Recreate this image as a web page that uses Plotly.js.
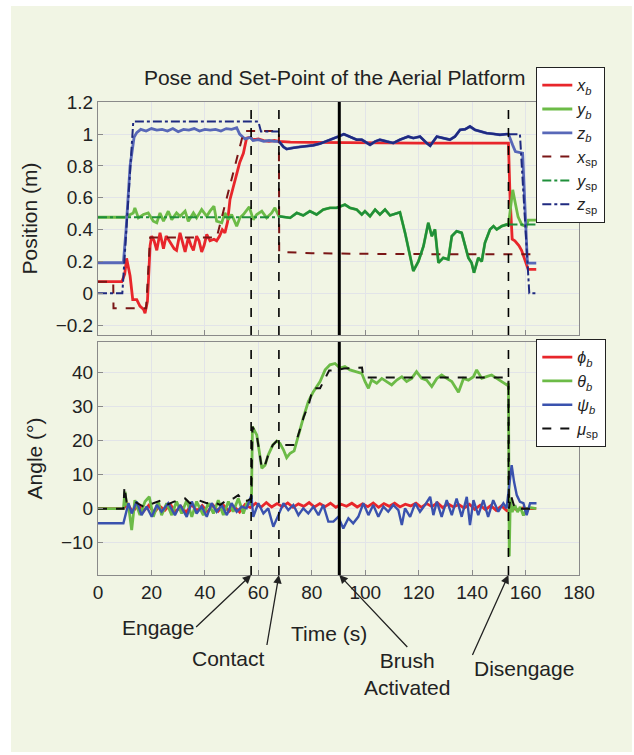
<!DOCTYPE html>
<html>
<head>
<meta charset="utf-8">
<script src="https://cdn.plot.ly/plotly-3.0.1.min.js"></script>
<style>html,body{margin:0;padding:0;background:#fff;}#chart{width:634px;height:755px;}</style>
</head>
<body>
<div id="chart"></div>
<script>
// ---------- Top panel: position (m) ----------
var tXb = [0, 8.9, 10.0, 10.7, 12.0, 13.0, 14.5, 15.7, 17.0, 17.6,
  18.5, 19.5, 20.1, 21.0, 22.0, 23.2, 24.5, 25.5, 26.3, 27.6,
  28.5, 29.4, 30.7, 31.5, 32.6, 33.8, 34.8, 35.7, 36.9, 37.8,
  38.8, 39.7, 40.7, 41.9, 43.4, 44.4, 45.5, 46.5, 47.5, 48.5,
  49.4, 50.5, 51.9, 53.0, 54.4, 55.6, 57.0, 58.0, 60.0, 62.0,
  64.0, 66.0, 67.7, 72, 80, 90, 100, 110, 120, 130,
  140, 150, 153.6, 154.2, 155.0, 156.0, 157.5, 158.5, 159.8, 161.0,
  164.0];
var xB = [0.073, 0.073, 0.12, 0.22, 0.11, -0.04, -0.04, -0.08, -0.10, -0.125,
  -0.05, 0.30, 0.36, 0.33, 0.27, 0.38, 0.28, 0.36, 0.34, 0.30,
  0.28, 0.27, 0.38, 0.33, 0.26, 0.35, 0.30, 0.27, 0.36, 0.33,
  0.26, 0.30, 0.37, 0.33, 0.34, 0.33, 0.36, 0.40, 0.38, 0.45,
  0.59, 0.66, 0.756, 0.82, 0.88, 0.975, 0.98, 0.965, 0.97, 0.96,
  0.955, 0.96, 0.955, 0.95, 0.948, 0.946, 0.945, 0.944, 0.944, 0.944,
  0.945, 0.944, 0.944, 0.6, 0.34, 0.33, 0.30, 0.27, 0.20, 0.15,
  0.15];

var tXsp = [0, 5.7, 5.8, 18.0, 19.5, 44.4, 54.6, 67.7, 67.8, 80, 100, 120, 140, 163.5];
var xSp  = [0.073, 0.073, -0.094, -0.094, 0.35, 0.35, 1.02, 1.02, 0.26, 0.252, 0.248, 0.245, 0.245, 0.245];

var tYb = [0, 10, 13.2, 13.8, 15.1, 17.0, 18.8, 20.7, 22.0, 23.2,
  24.5, 26.3, 27.6, 29.4, 30.7, 32.6, 33.8, 35.7, 36.9, 38.8,
  40.7, 41.9, 43.4, 44.4, 46.3, 47.5, 48.8, 50.0, 51.9, 53.1,
  54.4, 56.6, 58.1, 59.4, 61.3, 63.1, 65.0, 66.2, 67.7, 69.4,
  71.9, 74.4, 76.8, 79.3, 81.8, 84.3, 86.8, 89.3, 92.4, 94.3,
  96.8, 98.7, 99.9, 101.8, 103.7, 105.5, 107.4, 109.3, 111.8, 113.0,
  114.9, 116.8, 118.0, 119.9, 121.8, 123.6, 124.9, 126.1, 127.4, 129.2,
  131.1, 132.4, 134.2, 136.1, 137.4, 138.6, 139.8, 140.7, 142.3, 143.6,
  144.8, 146.7, 148.0, 149.2, 151.1, 152.9, 153.6, 154.5, 155.2, 156.0,
  157.2, 158.6, 160.3, 161.0, 164.0];
var yB = [0.478, 0.478, 0.505, 0.537, 0.474, 0.495, 0.505, 0.453, 0.443, 0.505,
  0.453, 0.516, 0.463, 0.505, 0.484, 0.516, 0.453, 0.505, 0.474, 0.526,
  0.484, 0.516, 0.547, 0.453, 0.443, 0.505, 0.463, 0.495, 0.422, 0.474,
  0.495, 0.543, 0.463, 0.495, 0.516, 0.474, 0.505, 0.537, 0.484, 0.48,
  0.474, 0.505, 0.489, 0.516, 0.495, 0.526, 0.537, 0.537, 0.557, 0.537,
  0.526, 0.495, 0.516, 0.484, 0.526, 0.495, 0.526, 0.489, 0.501, 0.509,
  0.38, 0.234, 0.14, 0.2, 0.296, 0.443, 0.359, 0.401, 0.192, 0.223,
  0.213, 0.359, 0.39, 0.38, 0.307, 0.223, 0.192, 0.129, 0.223, 0.2,
  0.317, 0.401, 0.422, 0.401, 0.422, 0.432, 0.43, 0.55, 0.65, 0.58,
  0.48, 0.43, 0.42, 0.46, 0.46];

// y set-point outside the contact phase (contact phase tracks y_b)
var tYspPre = [0, 67.7];
var ySpPre = [0.478, 0.478];
var tYspPost = [153.6, 164.0];
var ySpPost = [0.432, 0.432];

var tZbPre = [0, 9.5, 10.5, 12.0, 13.5, 14.5, 16, 18, 20, 22,
  24, 26, 28, 30, 32, 34, 36, 38, 40, 42,
  44, 46, 48, 50, 51.9, 53, 55, 57, 58, 60,
  62, 64, 66, 67.7];
var zBPre = [0.192, 0.192, 0.4, 0.8, 0.98, 1.01, 1.03, 1.02, 1.035, 1.025,
  1.03, 1.02, 1.035, 1.015, 1.03, 1.025, 1.035, 1.02, 1.03, 1.025,
  1.03, 1.02, 1.035, 1.03, 1.04, 1.0, 0.97, 0.98, 0.96, 0.965,
  0.955, 0.96, 0.955, 0.955];
var tZContact = [67.7, 69.4, 70.6, 73.1, 75.6, 78.1, 80.6, 83.1, 85.6, 88.1,
  89.9, 92.0, 94.3, 96.8, 98.7, 101.8, 103.7, 105.5, 108.0, 110.5,
  113.0, 116.1, 118.0, 120.5, 123.0, 124.3, 126.8, 129.2, 131.7, 133.6,
  135.5, 137.4, 139.2, 141.1, 143.0, 145.4, 147.9, 150.4, 152.9, 153.6];
var zContact = [0.955, 0.92, 0.906, 0.915, 0.92, 0.925, 0.93, 0.94, 0.955, 0.97,
  0.985, 1.0, 0.985, 0.965, 0.965, 0.933, 0.954, 0.965, 0.954, 0.944,
  0.965, 0.985, 0.975, 0.985, 0.944, 0.927, 0.985, 0.975, 0.965, 0.985,
  1.027, 1.031, 1.048, 1.027, 1.017, 1.006, 1.002, 0.996, 1.0, 1.0];
var tZbPost = [153.6, 155.2, 156.2, 158.9, 160.7, 164.0];
var zBPost = [1.0, 0.93, 0.89, 0.88, 0.19, 0.19];

var tZspPre = [0, 9.1, 13.2, 60.0, 61.0, 67.7];
var zSpPre = [0, 0, 1.079, 1.079, 1.017, 1.017];
var tZspPost = [153.6, 157.9, 161.4, 163.9];
var zSpPost = [1.0, 1.0, 0, 0];

// ---------- Bottom panel: angle (deg) ----------
var tPhi = [0, 9.5, 11, 13, 15, 17, 19, 21, 23, 25,
  27, 29, 31, 33, 35, 37, 39, 41, 43, 45,
  47, 49, 51, 53, 55, 57, 59, 61, 63, 65,
  67, 69, 71, 73, 75, 77, 79, 81, 83, 85,
  87, 89, 91, 93, 95, 97, 99, 101, 103, 105,
  107, 109, 111, 113, 115, 117, 119, 121, 123, 125,
  127, 129, 131, 133, 135, 137, 139, 141, 143, 145,
  147, 149, 151, 153, 153.6, 155, 157, 159, 161, 164];
var phiB = [0, 0, 1.5, -1.0, 1.2, -0.8, 1.0, -1.2, 0.8, -0.5,
  1.3, -0.9, 0.7, -1.1, 1.2, -0.6, 0.9, -1.0, 1.1, -0.7,
  1.0, -0.8, 0.6, -1.0, 1.2, 0.3, 1.6, 0.4, 1.8, 0.5,
  1.5, 0.6, 1.7, 0.4, 1.4, 0.7, 1.8, 0.5, 1.5, 0.6,
  1.6, 0.4, 1.3, 0.7, 1.6, 0.5, 1.4, 0.6, 1.7, 0.4,
  1.5, 0.7, 1.6, 0.5, 1.3, 0.8, 1.6, 0.4, 1.5, 0.6,
  1.7, 0.3, 1.4, 0.5, 1.2, 0.2, 1.3, -0.2, 1.0, -0.3,
  0.9, -0.5, 0.8, -0.6, -0.5, 0.3, -0.4, 0.2, 0, 0];

var tTheta = [0, 9.5, 10.1, 10.7, 11.4, 12.6, 13.8, 15.7, 17.6, 19.2,
  20.7, 22.6, 23.8, 25.7, 27.6, 29.4, 31.3, 33.2, 35.1, 36.9,
  39.4, 41.3, 43.2, 45.0, 46.9, 48.8, 50.6, 52.5, 54.4, 55.9,
  57.4, 57.8, 59.4, 61.3, 62.5, 63.7, 65.4, 66.9, 68.1, 69.4,
  70.6, 71.9, 73.4, 75.0, 76.8, 78.7, 80.6, 83.1, 85.0, 86.8,
  88.7, 90.6, 92.4, 94.3, 96.8, 98.7, 99.9, 101.2, 102.4, 104.3,
  106.2, 108.1, 109.9, 111.8, 113.7, 115.5, 117.4, 119.2, 121.1, 123.0,
  124.9, 126.8, 128.6, 130.5, 132.4, 134.9, 136.8, 138.6, 140.5, 141.7,
  143.6, 145.4, 147.3, 149.2, 151.1, 153.0, 153.6, 153.9, 154.3, 155.0,
  156.0, 157.0, 158.0, 159.2, 160.4, 162.0, 164.0];
var thetaB = [0, 0, 5.0, 1.1, 1.1, -6.3, 2.5, -1.9, 2.1, 3.5,
  -2.4, 2.1, -1.9, 1.6, -1.9, 2.1, -1.4, 2.5, -2.4, 2.1,
  -1.9, 1.6, -1.4, 2.5, -1.9, 2.1, -0.9, 3.0, -1.4, 2.1,
  1.1, 24.1, 21.7, 11.9, 12.8, 15.8, 18.7, 19.9, 19.2, 17.3,
  15.0, 16.3, 17.0, 21.7, 26.6, 31.5, 34.4, 37.4, 40.8, 42.3,
  42.7, 41.3, 41.8, 40.8, 40.3, 39.8, 37.4, 35.4, 37.8, 36.9,
  38.3, 37.4, 36.4, 37.8, 38.8, 37.4, 38.3, 40.3, 38.3, 37.8,
  35.9, 38.3, 39.3, 38.3, 37.4, 34.2, 38.3, 37.8, 38.8, 40.8,
  38.3, 38.8, 39.3, 38.3, 37.4, 36.4, 36.9, -14, 3, -1,
  1, -1, 0.5, -2, 0, 0.3, 0];

var tPsi = [0, 9.5, 11.4, 12.6, 14.5, 16.3, 18.2, 20.1, 22.0, 23.8,
  26.3, 28.8, 30.7, 33.2, 35.1, 36.9, 38.8, 40.7, 42.5, 44.4,
  46.3, 48.2, 50.0, 51.9, 53.8, 55.6, 57.4, 58.1, 60.0, 61.9,
  63.7, 65.6, 67.5, 69.4, 71.2, 73.1, 75.0, 76.8, 78.7, 80.6,
  82.5, 84.3, 86.2, 88.1, 89.9, 91.8, 93.7, 95.5, 97.4, 99.3,
  101.2, 103.0, 104.9, 106.8, 108.6, 110.5, 112.4, 113.7, 114.9, 116.8,
  118.7, 120.5, 122.4, 124.3, 125.5, 126.8, 128.6, 130.5, 132.4, 134.2,
  136.1, 138.0, 139.2, 140.5, 142.3, 144.2, 146.0, 147.9, 149.8, 151.7,
  152.9, 154.2, 154.8, 155.7, 156.7, 157.9, 159.2, 160.4, 161.7, 164.1];
var psiB = [-4.3, -4.3, 1.6, -1.4, 2.1, -1.9, 0.6, -2.4, 1.1, -0.9,
  1.6, -1.9, 1.1, -2.4, 2.1, -1.4, 0.6, -2.4, 1.6, -0.9,
  1.1, -1.9, 1.6, -0.9, 0.6, 0.1, 4.0, -2.4, 1.6, -1.4,
  0.1, -5.3, -1.9, 1.6, -0.4, 1.1, -1.9, 0.1, -1.4, 0.6,
  -1.9, 1.1, -3.8, -3.8, -2.4, -5.8, -2.8, -4.3, -2.4, 1.6,
  -1.9, 1.1, -2.4, 0.6, -0.9, 1.1, -0.4, -4.8, 0.1, -2.4,
  1.6, -0.9, 1.1, 3.5, -1.9, 2.1, -2.4, 2.5, -1.9, 3.0,
  -2.4, 3.5, -4.8, 2.5, -1.9, 2.5, -2.4, 2.5, -0.9, 1.6,
  0.1, 8.9, 12.8, 7.9, 4.0, 2.0, 1.6, -1.9, 1.6, 1.6];

var tMu = [0, 9.5, 9.9, 10.7, 13.8, 17.0, 20.7, 23.8, 25.7, 28.2,
  32.6, 34.4, 37.6, 40.7, 43.2, 45.7, 48.2, 50.6, 52.5, 54.4,
  56.3, 57.4, 57.8, 59.4, 61.3, 62.5, 63.7, 65.4, 66.9, 68.1,
  69.4, 73.8, 75.0, 77.0, 79.0, 80.4, 83.1, 86.5, 90.0, 92.0,
  98.8, 99.3, 153.6, 153.8, 154.5, 155.5, 156.0, 164.0];
var muSp = [0, 0, 6.5, 2.0, 2.0, 0.6, 1.6, 2.5, 1.1, 2.0,
  3.0, 1.6, 2.5, 1.6, 2.0, 1.1, 2.5, 3.0, 4.0, 2.0,
  2.5, 3.0, 24.1, 21.7, 11.9, 12.8, 15.8, 18.7, 19.9, 19.2,
  18.7, 18.7, 22.0, 27.0, 31.0, 35.4, 35.4, 40.6, 40.8, 41.2,
  41.5, 38.6, 38.6, 0, 4, 1, 0, 0];

// events (s)
var eventNames = ['Engage', 'Contact', 'Brush<br>Activated', 'Disengage'];
var eventTimes = [57.3, 67.7, 90.3, 153.6];
var xTicks = [0, 20, 40, 60, 80, 100, 120, 140, 160, 180];

// ---------- helpers ----------
function seg(tA, vA, lo, hi) {
  var t = [], v = [];
  for (var i = 0; i < tA.length; i++) { if (tA[i] >= lo && tA[i] <= hi) { t.push(tA[i]); v.push(vA[i]); } }
  return {t: t, v: v};
}
function join(parts) {
  var t = [], v = [];
  parts.forEach(function (p, k) {
    if (k > 0) { t.push(null); v.push(null); }
    t = t.concat(p.t); v = v.concat(p.v);
  });
  return {t: t, v: v};
}

var C = {xb: '#e8262b', yb: '#6cbb47', zb: '#5868b8', xsp: '#7a1616', ysp: '#1f8f3a', zsp: '#1f2a80',
         phi: '#e8262b', theta: '#6cbb47', psi: '#3a52ae', mu: '#111111'};

var yContact = seg(tYb, yB, 67.7, 153.6);
var ySpOuter = join([{t: tYspPre, v: ySpPre}, {t: tYspPost, v: ySpPost}]);
var zSpOuter = join([{t: tZspPre, v: zSpPre}, {t: tZspPost, v: zSpPost}]);
var zBAll = {t: tZbPre.concat(tZContact.slice(1), tZbPost.slice(1)),
             v: zBPre.concat(zContact.slice(1), zBPost.slice(1))};

function L(name, x, y, color, dash, width, ax, leg, show) {
  return {type: 'scatter', mode: 'lines', name: name, x: x, y: y,
    xaxis: ax === 2 ? 'x2' : 'x', yaxis: ax === 2 ? 'y2' : 'y',
    legend: leg, showlegend: show !== false, hoverinfo: 'skip',
    line: {color: color, dash: dash || 'solid', width: width}};
}

var traces = [
  L('<i>x</i><sub><i>b</i></sub>', tXb, xB, C.xb, 'solid', 2.8, 1, 'legend'),
  L('<i>y</i><sub><i>b</i></sub>', tYb, yB, C.yb, 'solid', 2.8, 1, 'legend'),
  L('<i>z</i><sub><i>b</i></sub>', zBAll.t, zBAll.v, C.zb, 'solid', 2.8, 1, 'legend'),
  L('<i>x</i><sub>sp</sub>', tXsp, xSp, C.xsp, 'dash', 2, 1, 'legend'),
  L('<i>y</i><sub>sp</sub>', ySpOuter.t, ySpOuter.v, C.ysp, 'dashdot', 2, 1, 'legend'),
  L('<i>z</i><sub>sp</sub>', zSpOuter.t, zSpOuter.v, C.zsp, 'dashdot', 2, 1, 'legend'),
  L('y_sp contact', yContact.t, yContact.v, C.ysp, 'solid', 2.4, 1, 'legend', false),
  L('z_sp contact', tZContact, zContact, C.zsp, 'solid', 2.4, 1, 'legend', false),
  L('<i>ϕ</i><sub><i>b</i></sub>', tPhi, phiB, C.phi, 'solid', 2.8, 2, 'legend2'),
  L('<i>θ</i><sub><i>b</i></sub>', tTheta, thetaB, C.theta, 'solid', 2.8, 2, 'legend2'),
  L('<i>ψ</i><sub><i>b</i></sub>', tPsi, psiB, C.psi, 'solid', 2.4, 2, 'legend2'),
  L('<i>μ</i><sub>sp</sub>', tMu, muSp, C.mu, 'dash', 2, 2, 'legend2')
];

var shapes = [{type: 'rect', xref: 'paper', yref: 'paper', x0: -0.181, x1: 1.11, y0: -0.374, y1: 1.203,
  fillcolor: '#f1f5e4', line: {width: 0}, layer: 'below'}];
eventTimes.forEach(function (e, i) {
  var solid = (i === 2);
  [['x', 'y domain'], ['x2', 'y2 domain']].forEach(function (r) {
    shapes.push({type: 'line', xref: r[0], yref: r[1], x0: e, x1: e, y0: 0, y1: 1,
      line: {color: '#000', width: solid ? 3 : 1.6, dash: solid ? 'solid' : 'dash'}});
  });
});

var txtFont = {family: 'Liberation Sans, Arial, sans-serif', size: 21, color: '#222'};
// arrow tail offsets (px) from the arrow tip on the time axis, and where the label box hangs off the tail
var arrowTail = [[-55, 52], [-12, 70], [68, 72], [-36, 80]];
var labelAnchor = [['right', 'middle'], ['right', 'top'], ['center', 'top'], ['left', 'top']];
var annotations = [];
eventTimes.forEach(function (e, i) {
  annotations.push({xref: 'x2', yref: 'paper', x: e, y: 0, text: eventNames[i], font: txtFont,
    xanchor: labelAnchor[i][0], yanchor: labelAnchor[i][1], align: 'center',
    showarrow: true, ax: arrowTail[i][0], ay: arrowTail[i][1], arrowhead: 2, arrowsize: 1.3,
    arrowwidth: 1.3, arrowcolor: '#222', standoff: 0, startstandoff: 0});
});
annotations.push({xref: 'paper', yref: 'paper', x: 0.48, y: -0.1247, text: 'Time (s)',
  showarrow: false, xanchor: 'center', yanchor: 'middle', font: txtFont});

var axCommon = {showline: true, linecolor: '#8a8a8a', linewidth: 1, mirror: true, ticks: 'inside',
  ticklen: 5, tickcolor: '#8a8a8a', gridcolor: '#e2e4e8', gridwidth: 1, zeroline: false,
  tickfont: {size: 19, color: '#222'}};
function ax(o) { var r = {}; for (var k in axCommon) r[k] = axCommon[k]; for (var k2 in o) r[k2] = o[k2]; return r; }

var legCommon = {xanchor: 'left', yanchor: 'top', bgcolor: '#ffffff', bordercolor: '#222', borderwidth: 1.3,
  font: {family: 'Liberation Sans, Arial, sans-serif', size: 16, color: '#222'}, tracegroupgap: 0, itemwidth: 30};
function leg(o) { var r = {}; for (var k in legCommon) r[k] = legCommon[k]; for (var k2 in o) r[k2] = o[k2]; return r; }

var layout = {
  width: 634, height: 755,
  paper_bgcolor: '#ffffff', plot_bgcolor: '#fbfcff',
  margin: {l: 98, r: 55, t: 102, b: 180, pad: 0},
  font: {family: 'Liberation Sans, Arial, sans-serif', size: 19, color: '#222'},
  title: {text: 'Pose and Set-Point of the Aerial Platform', x: 0.528, xanchor: 'center',
    y: 1 - 78 / 755, yanchor: 'middle', font: {size: 21, color: '#222'}},
  xaxis: ax({domain: [0, 1], range: [0, 180], tickvals: xTicks, showticklabels: false, anchor: 'y'}),
  yaxis: ax({domain: [0.5074, 1], range: [-0.262, 1.202], dtick: 0.2, tick0: 0, anchor: 'x',
    title: {text: 'Position (m)', font: {size: 21, color: '#222'}, standoff: 12}}),
  xaxis2: ax({domain: [0, 1], range: [0, 180], tickvals: xTicks, ticktext: xTicks.map(String), anchor: 'y2'}),
  yaxis2: ax({domain: [0, 0.4926], range: [-19.5, 49], dtick: 10, tick0: 0, anchor: 'x2',
    title: {text: 'Angle (°)', font: {size: 21, color: '#222'}, standoff: 12}}),
  legend: leg({x: 0.9106, y: 1.074}),
  legend2: leg({x: 0.9106, y: 0.499}),
  shapes: shapes,
  annotations: annotations
};

Plotly.newPlot('chart', traces, layout, {displayModeBar: false, staticPlot: true});
</script>
</body>
</html>
